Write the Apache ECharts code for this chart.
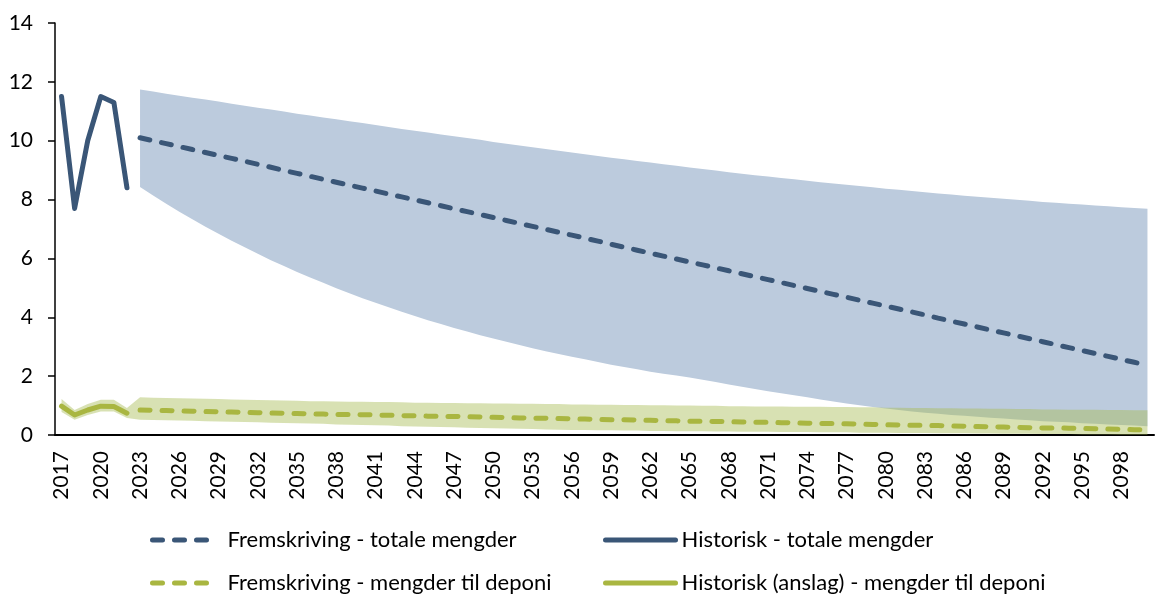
<!DOCTYPE html>
<html>
<head>
<meta charset="utf-8">
<script src="https://cdn.jsdelivr.net/npm/echarts@6/dist/echarts.min.js"></script>
<style>
html,body{margin:0;padding:0;background:#fff;}
#chart{width:1160px;height:597px;}
</style>
</head>
<body>
<div id="chart"></div>
<script>
// Categories (years)
const years = [2017,2018,2019,2020,2021,2022,2023,2024,2025,2026,2027,2028,2029,2030,2031,2032,2033,2034,2035,2036,2037,2038,2039,2040,2041,2042,2043,2044,2045,2046,2047,2048,2049,2050,2051,2052,2053,2054,2055,2056,2057,2058,2059,2060,2061,2062,2063,2064,2065,2066,2067,2068,2069,2070,2071,2072,2073,2074,2075,2076,2077,2078,2079,2080,2081,2082,2083,2084,2085,2086,2087,2088,2089,2090,2091,2092,2093,2094,2095,2096,2097,2098,2099,2100];

// Historic (2017-2022)
const histTotal = [11.5, 7.7, 10.0, 11.5, 11.3, 8.4];
const histDeponi = [0.98, 0.68, 0.85, 0.98, 0.97, 0.74];

// Projections (2023-2100)
const projTotal = [10.10,10.00,9.90,9.80,9.70,9.60,9.50,9.40,9.30,9.20,9.10,8.99,8.89,8.79,8.69,8.59,8.49,8.39,8.29,8.19,8.09,7.99,7.89,7.79,7.69,7.59,7.49,7.39,7.29,7.19,7.09,6.99,6.89,6.79,6.69,6.59,6.48,6.38,6.28,6.18,6.08,5.98,5.88,5.78,5.68,5.58,5.48,5.38,5.28,5.18,5.08,4.98,4.88,4.78,4.68,4.58,4.48,4.38,4.28,4.18,4.08,3.97,3.87,3.77,3.67,3.57,3.47,3.37,3.27,3.17,3.07,2.97,2.87,2.77,2.67,2.57,2.47,2.37];
const projDeponi = [0.85,0.84,0.83,0.82,0.81,0.80,0.79,0.78,0.77,0.76,0.75,0.74,0.73,0.72,0.71,0.70,0.70,0.69,0.68,0.67,0.66,0.65,0.64,0.63,0.63,0.62,0.61,0.60,0.59,0.58,0.57,0.57,0.56,0.55,0.54,0.53,0.52,0.52,0.51,0.50,0.49,0.48,0.47,0.47,0.46,0.45,0.44,0.43,0.43,0.42,0.41,0.40,0.39,0.39,0.38,0.37,0.36,0.35,0.34,0.33,0.33,0.32,0.31,0.30,0.29,0.28,0.27,0.26,0.25,0.24,0.24,0.23,0.22,0.21,0.20,0.19,0.18,0.17];

// Uncertainty band, totals (2023-2100)
const totalUpper = [11.74,11.67,11.60,11.53,11.46,11.40,11.33,11.26,11.19,11.12,11.06,10.99,10.92,10.86,10.79,10.73,10.66,10.60,10.53,10.47,10.40,10.34,10.28,10.21,10.15,10.09,10.03,9.96,9.90,9.84,9.78,9.72,9.66,9.60,9.54,9.48,9.42,9.37,9.31,9.26,9.20,9.15,9.09,9.04,8.99,8.93,8.88,8.83,8.78,8.73,8.69,8.64,8.59,8.55,8.50,8.46,8.42,8.37,8.33,8.29,8.25,8.21,8.17,8.13,8.10,8.06,8.03,7.99,7.96,7.92,7.89,7.86,7.83,7.80,7.77,7.74,7.71,7.69];
const totalLower = [8.43,8.14,7.86,7.59,7.33,7.08,6.84,6.60,6.38,6.16,5.94,5.74,5.54,5.35,5.17,4.99,4.82,4.65,4.49,4.34,4.19,4.04,3.90,3.77,3.64,3.52,3.39,3.28,3.17,3.06,2.95,2.85,2.75,2.66,2.57,2.48,2.39,2.31,2.23,2.15,2.08,2.02,1.95,1.88,1.80,1.72,1.64,1.56,1.49,1.42,1.35,1.28,1.21,1.14,1.07,1.01,0.95,0.90,0.85,0.80,0.76,0.72,0.68,0.65,0.62,0.59,0.56,0.53,0.50,0.47,0.45,0.43,0.40,0.38,0.36,0.34,0.32,0.30];

// Uncertainty band, deponi (2017-2100)
const deponiUpper = [1.22,0.85,1.05,1.20,1.20,0.92,1.28,1.27,1.26,1.25,1.24,1.23,1.22,1.21,1.20,1.19,1.18,1.17,1.16,1.15,1.15,1.14,1.13,1.13,1.12,1.12,1.11,1.10,1.10,1.09,1.09,1.08,1.08,1.07,1.07,1.06,1.06,1.05,1.05,1.04,1.04,1.03,1.03,1.02,1.02,1.01,1.01,1.00,1.00,0.99,0.99,0.98,0.98,0.97,0.97,0.97,0.96,0.96,0.96,0.95,0.95,0.94,0.94,0.93,0.93,0.92,0.92,0.91,0.91,0.90,0.90,0.89,0.89,0.88,0.88,0.87,0.87,0.86,0.86,0.86,0.85,0.85,0.84,0.84];
const deponiLower = [0.78,0.52,0.68,0.80,0.80,0.58,0.52,0.51,0.50,0.49,0.48,0.47,0.46,0.45,0.44,0.43,0.42,0.41,0.40,0.39,0.38,0.36,0.35,0.34,0.33,0.32,0.30,0.29,0.28,0.27,0.26,0.25,0.24,0.23,0.22,0.21,0.20,0.19,0.18,0.17,0.17,0.16,0.16,0.15,0.15,0.14,0.14,0.13,0.13,0.13,0.12,0.12,0.11,0.11,0.11,0.10,0.10,0.10,0.09,0.09,0.09,0.08,0.08,0.08,0.07,0.07,0.07,0.06,0.06,0.06,0.05,0.05,0.04,0.04,0.04,0.03,0.03,0.03,0.02,0.02,0.02,0.01,0.01,0.01];

const yTicks = [0, 2, 4, 6, 8, 10, 12, 14];

const NAMES = {
  projTotal: 'Fremskriving - totale mengder',
  histTotal: 'Historisk - totale mengder',
  projDeponi: 'Fremskriving - mengder til deponi',
  histDeponi: 'Historisk (anslag) - mengder til deponi'
};

const BLUE = '#3a5677';
const GREEN = '#a9b641';
const FONT = 'Lato, "Open Sans", sans-serif';

// build full-length arrays aligned to categories
const nHist = histTotal.length;
const pad = (arr, before) => new Array(before).fill(null).concat(arr);
const histTotalFull = histTotal.concat(new Array(years.length - nHist).fill(null));
const histDeponiFull = histDeponi.concat(new Array(years.length - nHist).fill(null));
const projTotalFull = pad(projTotal, nHist);
const projDeponiFull = pad(projDeponi, nHist);
const totalLowerFull = pad(totalLower, nHist);
const totalDiffFull = pad(totalUpper.map((u, i) => +(u - totalLower[i]).toFixed(3)), nHist);
const deponiDiff = deponiUpper.map((u, i) => +(u - deponiLower[i]).toFixed(3));

const chart = echarts.init(document.getElementById('chart'), null, {renderer: 'canvas'});

function legendBox(name, left, top, itemWidth, padLeft) {
  return {
    data: [name],
    left: left, top: top,
    padding: 0,
    itemWidth: itemWidth, itemHeight: 3,
    selectedMode: false,
    lineStyle: {width: 5, cap: 'round'},
    textStyle: {fontFamily: FONT, fontSize: 22, color: '#000', padding: [0, 0, 0, padLeft]}
  };
}

const option = {
  animation: false,
  backgroundColor: '#fff',
  grid: {left: 55, right: 6, top: 23, bottom: 162, containLabel: false},
  legend: [
    legendBox(NAMES.projTotal, 150, 529, 60, 10),
    legendBox(NAMES.histTotal, 603, 529, 70, 1),
    legendBox(NAMES.projDeponi, 150, 572, 60, 10),
    legendBox(NAMES.histDeponi, 603, 572, 70, 1)
  ],
  xAxis: {
    type: 'category',
    data: years,
    boundaryGap: true,
    axisLine: {lineStyle: {color: '#000', width: 2}},
    axisTick: {show: false},
    axisLabel: {
      interval: 2, rotate: 90, margin: 16,
      fontFamily: FONT, fontSize: 21, color: '#000'
    },
    splitLine: {show: false}
  },
  yAxis: {
    type: 'value',
    min: yTicks[0], max: yTicks[yTicks.length - 1], interval: 2,
    axisLine: {show: true, lineStyle: {color: '#000', width: 1.5}},
    axisTick: {show: true, length: 7, lineStyle: {color: '#000', width: 1.5}},
    axisLabel: {margin: 22, fontFamily: FONT, fontSize: 21, color: '#000'},
    splitLine: {show: false}
  },
  series: [
    {
      name: 'totalLower', type: 'line', stack: 'tot', data: totalLowerFull,
      symbol: 'none', lineStyle: {opacity: 0}, silent: true, z: 1
    },
    {
      name: 'totalBand', type: 'line', stack: 'tot', data: totalDiffFull,
      symbol: 'none', lineStyle: {opacity: 0},
      areaStyle: {color: '#bccbdd', opacity: 1}, silent: true, z: 1
    },
    {
      name: 'deponiLower', type: 'line', stack: 'dep', data: deponiLower,
      symbol: 'none', lineStyle: {opacity: 0}, silent: true, z: 2
    },
    {
      name: 'deponiBand', type: 'line', stack: 'dep', data: deponiDiff,
      symbol: 'none', lineStyle: {opacity: 0},
      areaStyle: {color: 'rgba(168,188,86,0.45)', opacity: 1}, silent: true, z: 2
    },
    {
      name: NAMES.projTotal, type: 'line', data: projTotalFull, symbol: 'none', z: 5,
      color: BLUE,
      lineStyle: {color: BLUE, width: 5, type: [10, 12], cap: 'round'}
    },
    {
      name: NAMES.histTotal, type: 'line', data: histTotalFull, symbol: 'none', z: 5,
      color: BLUE,
      lineStyle: {color: BLUE, width: 5, cap: 'round', join: 'round'}
    },
    {
      name: NAMES.projDeponi, type: 'line', data: projDeponiFull, symbol: 'none', z: 5,
      color: GREEN,
      lineStyle: {color: GREEN, width: 5, type: [10, 12], cap: 'round'}
    },
    {
      name: NAMES.histDeponi, type: 'line', data: histDeponiFull, symbol: 'none', z: 5,
      color: GREEN,
      lineStyle: {color: GREEN, width: 5, cap: 'round', join: 'round'}
    }
  ]
};
chart.setOption(option);
</script>
</body>
</html>
